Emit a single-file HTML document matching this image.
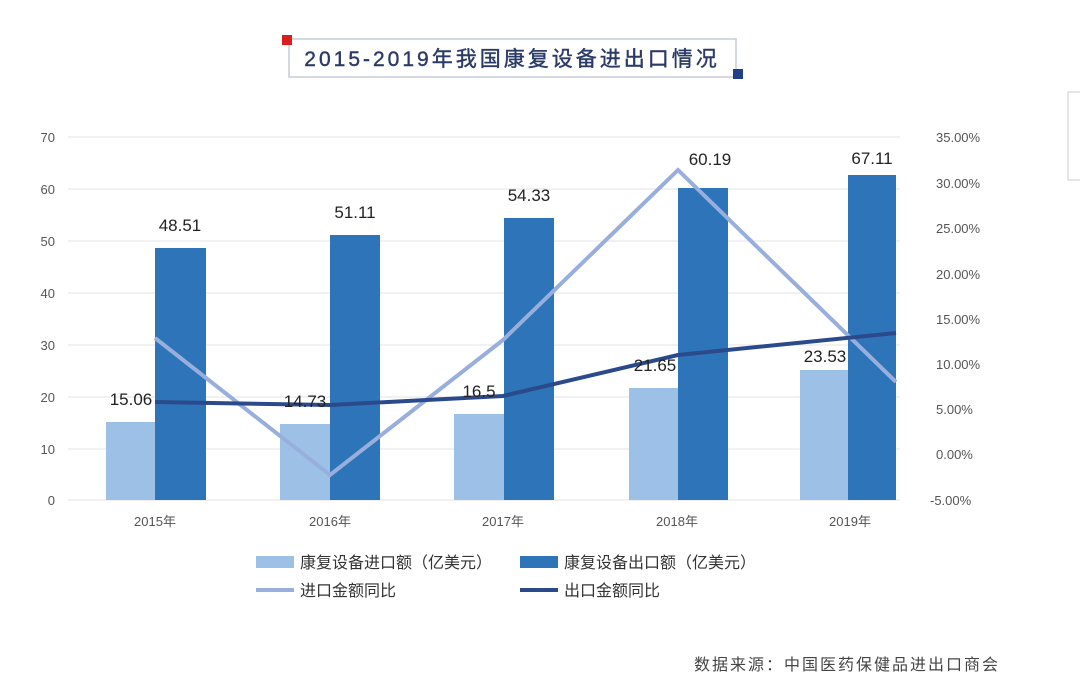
<!DOCTYPE html>
<html><head><meta charset="utf-8"><style>
body{margin:0;background:#fff;width:1080px;height:695px;overflow:hidden;font-family:"Liberation Sans","Noto Sans CJK SC",sans-serif;}
</style></head><body>
<svg width="1080" height="695" viewBox="0 0 1080 695" xmlns="http://www.w3.org/2000/svg" font-family="Liberation Sans, Noto Sans CJK SC, sans-serif">
<rect x="289" y="39" width="447" height="38" fill="#fff" stroke="#c5cbd9" stroke-width="1.5"/>
<rect x="282" y="35" width="10" height="10" fill="#d71f1f"/>
<rect x="733" y="69" width="10" height="10" fill="#1f3f86"/>
<text x="512" y="66" text-anchor="middle" font-size="21" fill="#2b3a67" stroke="#2b3a67" stroke-width="0.4" letter-spacing="3">2015-2019年我国康复设备进出口情况</text>
<path d="M1080 92 H1068 V180 H1080" fill="none" stroke="#ccc" stroke-width="1"/>
<g stroke="#e3e3e3" stroke-width="1">
<line x1="68" y1="137" x2="900" y2="137"/><line x1="68" y1="189" x2="900" y2="189"/><line x1="68" y1="241" x2="900" y2="241"/><line x1="68" y1="293" x2="900" y2="293"/><line x1="68" y1="345" x2="900" y2="345"/><line x1="68" y1="397" x2="900" y2="397"/><line x1="68" y1="449" x2="900" y2="449"/><line x1="68" y1="500" x2="900" y2="500"/>
</g>
<g font-size="13" fill="#555" text-anchor="end">
<text x="55" y="142">70</text><text x="55" y="194">60</text><text x="55" y="246">50</text><text x="55" y="298">40</text><text x="55" y="350">30</text><text x="55" y="402">20</text><text x="55" y="454">10</text><text x="55" y="505">0</text>
</g>
<g font-size="13" fill="#555">
<text x="936" y="142">35.00%</text><text x="936" y="188">30.00%</text><text x="936" y="233">25.00%</text><text x="936" y="279">20.00%</text><text x="936" y="324">15.00%</text><text x="936" y="369">10.00%</text><text x="936" y="414">5.00%</text><text x="936" y="459">0.00%</text><text x="930" y="505">-5.00%</text>
</g>
<g fill="#9dc1e6">
<rect x="106" y="422" width="49" height="78"/><rect x="280" y="424" width="50" height="76"/><rect x="454" y="414" width="50" height="86"/><rect x="629" y="388" width="49" height="112"/><rect x="800" y="370" width="48" height="130"/>
</g>
<g fill="#2e74b8">
<rect x="155" y="248" width="51" height="252"/><rect x="330" y="235" width="50" height="265"/><rect x="504" y="218" width="50" height="282"/><rect x="678" y="188" width="50" height="312"/><rect x="848" y="175" width="48" height="325"/>
</g>
<polyline points="155,338 330,475 503,340 678,170 896,382" fill="none" stroke="#98aedd" stroke-width="4"/>
<polyline points="155,402 330,405 503,396 678,355 896,333" fill="none" stroke="#2b4a8c" stroke-width="4" stroke-linejoin="round"/>
<g font-size="17" fill="#222" text-anchor="middle">
<text x="180" y="231">48.51</text><text x="355" y="218">51.11</text><text x="529" y="201">54.33</text><text x="710" y="165">60.19</text><text x="872" y="164">67.11</text>
<text x="131" y="405">15.06</text><text x="305" y="407">14.73</text><text x="479" y="397">16.5</text><text x="655" y="371">21.65</text><text x="825" y="362">23.53</text>
</g>
<g font-size="13" fill="#555" text-anchor="middle">
<text x="155" y="526">2015年</text><text x="330" y="526">2016年</text><text x="503" y="526">2017年</text><text x="677" y="526">2018年</text><text x="850" y="526">2019年</text>
</g>
<g font-size="16" fill="#333">
<rect x="256" y="556" width="38" height="12" fill="#9dc1e6"/><text x="300" y="568">康复设备进口额（亿美元）</text>
<rect x="520" y="556" width="38" height="12" fill="#2e74b8"/><text x="564" y="568">康复设备出口额（亿美元）</text>
<line x1="256" y1="590" x2="294" y2="590" stroke="#98aedd" stroke-width="4"/><text x="300" y="596">进口金额同比</text>
<line x1="520" y1="590" x2="558" y2="590" stroke="#2b4a8c" stroke-width="4"/><text x="564" y="596">出口金额同比</text>
</g>
<text x="1000" y="670" text-anchor="end" font-size="16" fill="#444" letter-spacing="2">数据来源：中国医药保健品进出口商会</text>
</svg>
</body></html>
